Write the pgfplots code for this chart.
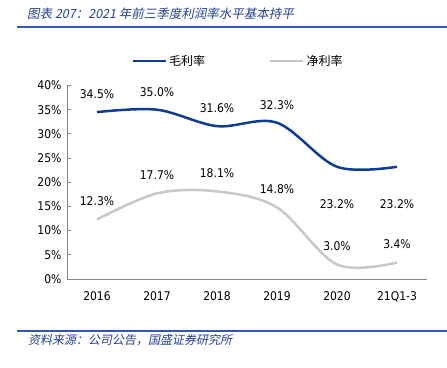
\documentclass[border=0pt]{standalone}
\usepackage{pgfplots}
\pgfplotsset{compat=1.18}
\usepackage{fontspec}
\setmainfont{DejaVu Sans Condensed}
\newfontfamily\cjk{Noto Sans CJK SC}
\newfontfamily\cjkit{Noto Sans CJK SC}[FakeSlant=0.2]
\definecolor{serblue}{RGB}{14,60,145}
\definecolor{sergray}{RGB}{200,200,200}
\definecolor{titleblue}{RGB}{35,65,145}
\definecolor{ruleblue}{RGB}{45,90,170}
\definecolor{axgray}{RGB}{134,134,134}
\pgfplotsset{/pgf/number format/assume math mode=true}
\begin{document}
\begin{tikzpicture}
\useasboundingbox (0pt,0pt) rectangle (447pt,367pt);
\node[anchor=west, inner sep=0pt, text=titleblue, font={\cjkit\fontsize{12.5}{14}\selectfont}] at (27pt,353pt) {图表 207：2021 年前三季度利润率水平基本持平};
\draw[ruleblue, line width=1.4pt] (17pt,340pt) -- (447pt,340pt);
\draw[ruleblue, line width=1.4pt] (17pt,36pt) -- (447pt,36pt);
\node[anchor=west, inner sep=0pt, text=titleblue, font={\cjkit\fontsize{12}{14}\selectfont}] at (28pt,27pt) {资料来源：公司公告，国盛证券研究所};
\begin{axis}[
  scale only axis, width=360pt, height=193.5pt,
  at={(67pt,88pt)}, anchor=south west,
  xmin=-0.5, xmax=5.5, ymin=0, ymax=40,
  axis x line*=bottom, axis y line*=left,
  axis line style={axgray, line width=0.8pt},
  xtick={0,1,2,3,4,5},
  xticklabels={2016,2017,2018,2019,2020,21Q1-3},
  x tick style={draw=none},
  extra x ticks={0.5,1.5,2.5,3.5,4.5,5.5},
  extra x tick labels={},
  extra x tick style={tick style={draw=axgray, line width=0.8pt}, major tick length=4pt, tick align=inside},
  ytick={0,5,...,40},
  yticklabel={\pgfmathprintnumber{\tick}\%},
  y tick style={draw=axgray, line width=0.8pt},
  major tick length=4pt, tick align=inside,
  ticklabel style={font=\fontsize{12}{14}\selectfont, text=black},
  xticklabel style={yshift=-9pt},
  yticklabel style={xshift=-2pt},
  legend style={draw=none, fill=none, at={(0.475,1.127)}, anchor=center,
    font={\cjk\fontsize{12}{14}\selectfont}, legend columns=2,
    /tikz/every even column/.append style={column sep=62pt},
    nodes={inner xsep=2pt}},
  legend image code/.code={\draw[#1, line width=2.5pt] (0pt,0pt) -- (33pt,0pt);},
  nodes near coords={\pgfmathprintnumber[fixed,precision=1,fixed zerofill]{\pgfplotspointmeta}\%},
  nodes near coords style={font=\fontsize{12}{14}\selectfont, text=black, anchor=center},
  clip=false,
]
\addplot[serblue, line width=2.5pt, smooth, tension=0.55, nodes near coords={}] coordinates {(0,34.5) (1,35.0) (2,31.6) (3,32.3) (4,23.2) (5,23.2)};
\addlegendentry{毛利率}
\addplot[sergray, line width=2.5pt, smooth, tension=0.55, nodes near coords={}] coordinates {(0,12.3) (1,17.7) (2,18.1) (3,14.8) (4,3.0) (5,3.4)};
\addlegendentry{净利率}
\addplot[draw=none, forget plot, nodes near coords style={yshift=18pt}] coordinates {(0,34.5) (1,35.0) (2,31.6) (3,32.3)};
\addplot[draw=none, forget plot, nodes near coords style={yshift=-37pt}] coordinates {(4,23.2) (5,23.2)};
\addplot[draw=none, forget plot, nodes near coords style={yshift=18pt}] coordinates {(0,12.3) (1,17.7) (2,18.1) (3,14.8) (4,3.0) (5,3.4)};
\end{axis}
\end{tikzpicture}
\end{document}
